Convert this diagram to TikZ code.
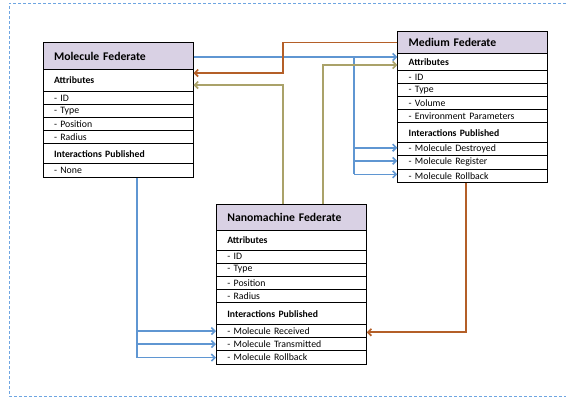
\documentclass[tikz,border=0pt]{standalone}
\usepackage{fontspec}
\setmainfont{Carlito}
\usetikzlibrary{arrows.meta,calc}
\definecolor{hdr}{RGB}{217,209,228}
\definecolor{cblue}{RGB}{95,150,210}
\definecolor{cbrown}{RGB}{180,95,40}
\definecolor{colive}{RGB}{170,162,105}
\definecolor{cframe}{RGB}{110,165,225}
\tikzset{
  rowbox/.style={draw, line width=0.8pt, anchor=north west, minimum width=150pt, text width=128pt, inner xsep=11pt, inner ysep=0pt, align=left, font=\fontsize{9.8}{10}\selectfont},
  hdrbox/.style={rowbox, fill=hdr, font=\fontsize{11.7}{12}\selectfont\bfseries},
  secbox/.style={rowbox, font=\fontsize{9.7}{10}\selectfont\bfseries},
  conn/.style={line width=1.8pt, -{Straight Barb[length=3.5pt,width=7pt,line width=1.6pt]}},
  plain/.style={line width=1.8pt},
  frameline/.style={cframe, line width=0.7pt, dash pattern=on 3pt off 2pt}
}
\begin{document}
\begin{tikzpicture}[x=1pt,y=-1pt]
\useasboundingbox (0,0) rectangle (566,402);
\draw[frameline] (566,3) -- (9,3) -- (9,396) -- (566,396);

% Molecule Federate
\node[hdrbox, minimum height=27pt] (mh) at (42.7,42.3) {Molecule Federate};
\node[secbox, minimum height=21.7pt] (ma) at (42.7,69.3) {Attributes};
\node[rowbox, minimum height=13pt] (mid) at (42.7,91) {- ID};
\node[rowbox, minimum height=13pt] (mty) at (42.7,104) {- Type};
\node[rowbox, minimum height=13pt] (mpo) at (42.7,117) {- Position};
\node[rowbox, minimum height=13.3pt] (mra) at (42.7,130) {- Radius};
\node[secbox, minimum height=20pt] (mip) at (42.7,143.3) {Interactions Published};
\node[rowbox, minimum height=13.7pt] (mno) at (42.7,163.3) {- None};

% Medium Federate
\node[hdrbox, minimum height=22.3pt] (dh) at (397.3,31) {Medium Federate};
\node[secbox, minimum height=17pt] (da) at (397.3,53.3) {Attributes};
\node[rowbox, minimum height=13pt] (did) at (397.3,70.3) {- ID};
\node[rowbox, minimum height=13pt] (dty) at (397.3,83.3) {- Type};
\node[rowbox, minimum height=13pt] (dvo) at (397.3,96.3) {- Volume};
\node[rowbox, minimum height=13pt] (den) at (397.3,109.3) {- Environment Parameters};
\node[secbox, minimum height=20pt] (dip) at (397.3,122.3) {Interactions Published};
\node[rowbox, minimum height=13pt] (dde) at (397.3,142.3) {- Molecule Destroyed};
\node[rowbox, minimum height=13.4pt] (dre) at (397.3,155.3) {- Molecule Register};
\node[rowbox, minimum height=13.6pt] (dro) at (397.3,168.7) {- Molecule Rollback};

% Nanomachine Federate
\node[hdrbox, minimum height=25.7pt] (nh) at (216,204.3) {Nanomachine Federate};
\node[secbox, minimum height=20pt] (na) at (216,230) {Attributes};
\node[rowbox, minimum height=12.7pt] (nid) at (216,250) {- ID};
\node[rowbox, minimum height=13pt] (nty) at (216,262.7) {- Type};
\node[rowbox, minimum height=13.3pt] (npo) at (216,275.7) {- Position};
\node[rowbox, minimum height=13.3pt] (nra) at (216,289) {- Radius};
\node[secbox, minimum height=22pt] (nip) at (216,302.3) {Interactions Published};
\node[rowbox, minimum height=12.7pt] (nre) at (216,324.3) {- Molecule Received};
\node[rowbox, minimum height=13.3pt] (ntr) at (216,337) {- Molecule Transmitted};
\node[rowbox, minimum height=13.7pt] (nro) at (216,350.3) {- Molecule Rollback};

% connector coordinates
\coordinate (bt) at (354,57);
\coordinate (brc) at (283,73);
\coordinate (ol1) at (283.3,85);
\coordinate (ol2) at (323.3,65);
\coordinate (bb) at (136.7,356);
\coordinate (brb) at (465.7,332.3);

% blue: Molecule -> Medium
\draw[conn, cblue] (mh.east |- bt) -- (bt -| da.west);
\draw[plain, cblue] (bt) -- ([yshift=1.5pt]bt |- dro.west);
\draw[conn, cblue] ([yshift=1.5pt]bt |- dde.west) -- ([yshift=1.5pt]dde.west);
\draw[conn, cblue] ([yshift=1.5pt]bt |- dre.west) -- ([yshift=1.5pt]dre.west);
\draw[conn, cblue] ([yshift=1.5pt]bt |- dro.west) -- ([yshift=1.5pt]dro.west);

% brown: Medium -> Molecule
\draw[conn, cbrown] (dh.west) -| (brc) -- (brc -| ma.east);

% olive: Nanomachine -> Molecule / Medium
\draw[conn, colive] (nh.north -| ol1) -- (ol1) -- (ol1 -| ma.east);
\draw[conn, colive] (nh.north -| ol2) -- (ol2) -- (ol2 -| da.west);

% blue: Molecule -> Nanomachine
\draw[plain, cblue] (mno.south -| bb) -- (bb |- nro.west);
\draw[conn, cblue] (bb |- nre.west) -- (nre.west);
\draw[conn, cblue] (bb |- ntr.west) -- (ntr.west);
\draw[conn, cblue] (bb |- nro.west) -- (nro.west);

% brown: Medium -> Nanomachine
\draw[conn, cbrown] (dro.south -| brb) -- (brb) -- (brb -| nre.east);
\end{tikzpicture}
\end{document}
